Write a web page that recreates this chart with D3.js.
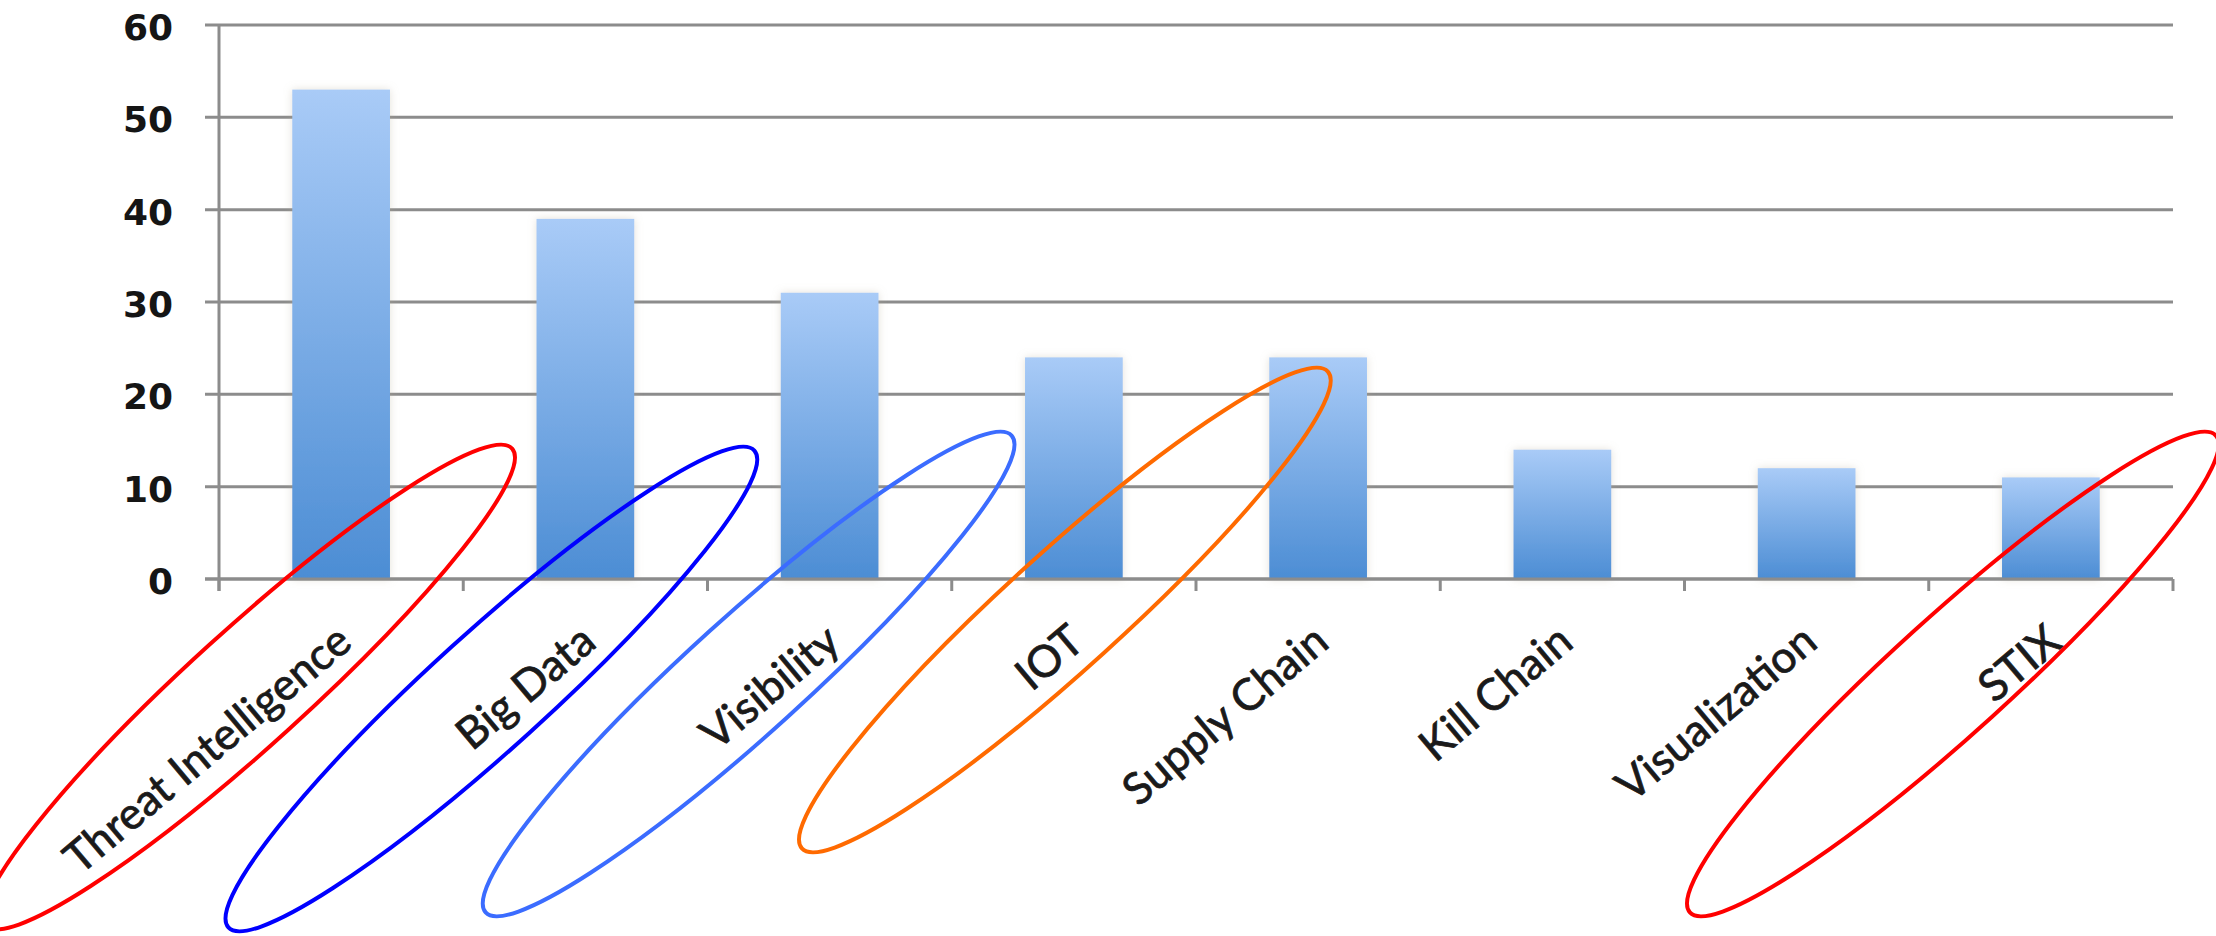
<!DOCTYPE html>
<html>
<head>
<meta charset="utf-8">
<script src="https://cdn.jsdelivr.net/npm/d3@7"></script>
<style>
    body { margin: 0; background: white; }
</style>
</head>
<body>
<script>
// Chart data
const categories = ["Threat Intelligence", "Big Data", "Visibility", "IOT",
                    "Supply Chain", "Kill Chain", "Visualization", "STIX"];
const counts = [53, 39, 31, 24, 24, 14, 12, 11];
const yTicks = [0, 10, 20, 30, 40, 50, 60];

// Hand-drawn rings around some of the labels
const circled = ["Threat Intelligence", "Big Data", "Visibility", "IOT", "STIX"];
const circleColors = ["#ff0000", "#0000ff", "#3b6cff", "#ff6a00", "#ff0000"];

const W = 2216, H = 936;
const plot = { left: 219, right: 2173, top: 25, bottom: 579 };

// where each ring sits, relative to its category centre / the x axis
const ringNudge = {
    "Threat Intelligence": [-92, 108],
    "Big Data": [-94, 110],
    "Visibility": [-81, 95],
    "IOT": [-9, 31],
    "STIX": [-98, 95]
};

const svg = d3.select("body")
              .append("svg")
              .attr("width", W)
              .attr("height", H)
              .style("background-color", "white");

const defs = svg.append("defs");
const grad = defs.append("linearGradient")
                 .attr("id", "barFill")
                 .attr("x1", 0).attr("y1", 0)
                 .attr("x2", 0).attr("y2", 1);
grad.append("stop").attr("offset", "0%").attr("stop-color", "#a9cbf7");
grad.append("stop").attr("offset", "100%").attr("stop-color", "#4c8dd4");

const shadow = defs.append("filter")
                   .attr("id", "barShadow")
                   .attr("x", "-20%").attr("y", "-20%")
                   .attr("width", "140%").attr("height", "140%");
shadow.append("feDropShadow")
      .attr("dx", 0).attr("dy", 0)
      .attr("stdDeviation", 4)
      .attr("flood-color", "#b0a890")
      .attr("flood-opacity", 0.35);

const x = d3.scaleBand()
            .domain(categories)
            .range([plot.left, plot.right])
            .paddingInner(0.6)
            .paddingOuter(0.3);

const y = d3.scaleLinear()
            .domain([0, 60])
            .range([plot.bottom, plot.top]);

const axisColor = "#8c8c8c";

// gridlines
svg.append("g")
   .selectAll("line")
   .data(yTicks)
   .join("line")
   .attr("x1", plot.left - 14)
   .attr("x2", plot.right)
   .attr("y1", d => y(d))
   .attr("y2", d => y(d))
   .attr("stroke", axisColor)
   .attr("stroke-width", 3);

// y tick labels
const yAxis = svg.append("g")
                 .attr("transform", `translate(${plot.left - 14},0)`)
                 .call(d3.axisLeft(y).tickValues(yTicks).tickSize(0).tickPadding(32));
yAxis.select(".domain").remove();
yAxis.selectAll("text")
     .attr("font-family", "DejaVu Sans")
     .attr("font-weight", "bold")
     .attr("font-size", 36)
     .attr("fill", "#151515")
     .attr("dy", "0.4em");

// bars
svg.append("g")
   .selectAll("rect")
   .data(categories)
   .join("rect")
   .attr("x", d => x(d))
   .attr("width", x.bandwidth())
   .attr("y", (d, i) => y(counts[i]))
   .attr("height", (d, i) => y(0) - y(counts[i]))
   .attr("fill", "url(#barFill)")
   .attr("filter", "url(#barShadow)");

// axes lines
svg.append("line")
   .attr("x1", plot.left).attr("x2", plot.left)
   .attr("y1", plot.top).attr("y2", plot.bottom + 12)
   .attr("stroke", axisColor).attr("stroke-width", 3);
svg.append("line")
   .attr("x1", plot.left - 14).attr("x2", plot.right)
   .attr("y1", plot.bottom).attr("y2", plot.bottom)
   .attr("stroke", axisColor).attr("stroke-width", 3);

// category boundary ticks
const bounds = d3.range(categories.length + 1).map(i => plot.left + i * x.step());
svg.append("g")
   .selectAll("line")
   .data(bounds)
   .join("line")
   .attr("x1", d => d).attr("x2", d => d)
   .attr("y1", plot.bottom).attr("y2", plot.bottom + 12)
   .attr("stroke", axisColor).attr("stroke-width", 3);

// rotated category labels
const centre = d => x(d) + x.bandwidth() / 2;
svg.append("g")
   .selectAll("text")
   .data(categories)
   .join("text")
   .attr("transform", d => `translate(${centre(d) + 3},${plot.bottom + 55}) rotate(-40)`)
   .attr("text-anchor", "end")
   .attr("dy", "0.35em")
   .attr("font-family", "Lato")
   .attr("font-size", 44)
   .attr("fill", "#1a1a1a")
   .attr("stroke", "#1a1a1a")
   .attr("stroke-width", 0.8)
   .text(d => d);

// annotation rings
svg.append("g")
   .selectAll("ellipse")
   .data(circled)
   .join("ellipse")
   .attr("transform", d => {
       const [dx, dy] = ringNudge[d];
       return `translate(${centre(d) + dx},${plot.bottom + dy}) rotate(-42.2)`;
   })
   .attr("rx", 355)
   .attr("ry", 58)
   .attr("fill", "none")
   .attr("stroke", (d, i) => circleColors[i])
   .attr("stroke-width", 4);
</script>
</body>
</html>
